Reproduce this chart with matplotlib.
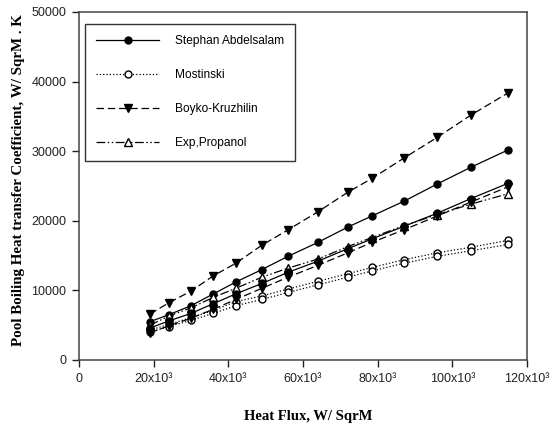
import matplotlib
matplotlib.use("Agg")
import matplotlib.pyplot as plt

# heat flux, W/m2
heat_flux = [19000, 24000, 30000, 36000, 42000, 49000, 56000, 64000,
             72000, 78500, 87000, 96000, 105000, 115000]

# correlations, two sets each (upper / lower)
stephan_a = [5500, 6500, 7800, 9500, 11200, 13000, 14900, 16900,
             19100, 20700, 22800, 25300, 27700, 30200]
stephan_b = [4600, 5600, 6700, 8100, 9500, 11000, 12600, 14200,
             16000, 17400, 19200, 21100, 23200, 25400]
mostinski_a = [4300, 5100, 6100, 7100, 8400, 9200, 10200, 11300,
               12400, 13300, 14400, 15400, 16200, 17200]
mostinski_b = [4000, 4800, 5700, 6700, 7800, 8700, 9700, 10800,
               11900, 12800, 13900, 14900, 15700, 16600]
boyko_a = [6600, 8200, 9900, 12100, 13900, 16500, 18700, 21300,
           24100, 26100, 29000, 32000, 35200, 38400]
boyko_b = [3900, 4900, 6000, 7300, 8700, 10300, 11900, 13600,
           15400, 16900, 18700, 20700, 22700, 24900]
exp_propanol = [5000, 6300, 7500, 9000, 10300, 11900, 13200, 14500,
                16300, 17600, 19300, 20900, 22400, 23900]

x_ticks = [0, 20000, 40000, 60000, 80000, 100000, 120000]
x_ticklabels = ["0", "20x10³", "40x10³", "60x10³", "80x10³", "100x10³", "120x10³"]
y_ticks = [0, 10000, 20000, 30000, 40000, 50000]

plt.rcParams['font.family'] = ['Liberation Sans', 'DejaVu Sans']

fig = plt.figure(figsize=(5.54, 4.25), dpi=100)
ax = fig.add_axes([79 / 554, 1 - 360 / 425, 448 / 554, 348 / 425])

lw = 0.9
dashdotdot = (0, (7, 2, 1.2, 2, 1.2, 2))

ax.plot(heat_flux, stephan_a, color='black', lw=lw, ls='-', marker='o',
        ms=5, mfc='black', label='Stephan Abdelsalam')
ax.plot(heat_flux, mostinski_a, color='black', lw=lw, ls=':', marker='o',
        ms=5, mfc='white', label='Mostinski')
ax.plot(heat_flux, boyko_a, color='black', lw=lw, ls=(0, (6, 3)), marker='v',
        ms=6, mfc='black', label='Boyko-Kruzhilin')
ax.plot(heat_flux, exp_propanol, color='black', lw=lw, ls=dashdotdot, marker='^',
        ms=6, mfc='white', label='Exp,Propanol')

ax.plot(heat_flux, stephan_b, color='black', lw=lw, ls='-', marker='o',
        ms=5, mfc='black')
ax.plot(heat_flux, mostinski_b, color='black', lw=lw, ls=':', marker='o',
        ms=5, mfc='white')
ax.plot(heat_flux, boyko_b, color='black', lw=lw, ls=(0, (6, 3)), marker='v',
        ms=6, mfc='black')

ax.set_xlim(0, 120000)
ax.set_ylim(0, 50000)
ax.set_xticks(x_ticks)
ax.set_xticklabels(x_ticklabels)
ax.set_yticks(y_ticks)
ax.set_yticklabels([str(v) for v in y_ticks])
ax.tick_params(axis='both', which='major', direction='out', length=5, width=1,
               labelsize=9, colors='#222222', pad=4)
ax.tick_params(top=False, right=False)
for sp in ax.spines.values():
    sp.set_color('#444444')
    sp.set_linewidth(1.1)

ax.set_xlabel("Heat Flux, W/ SqrM", family='Liberation Serif', fontweight='bold',
              fontsize=10.5)
ax.xaxis.set_label_coords(0.511, -0.145)
ax.set_ylabel("Pool Boiling Heat transfer Coefficient, W/ SqrM . K",
              family='Liberation Serif', fontweight='bold', fontsize=10.8)
ax.yaxis.set_label_coords(-0.12, 0.517)

leg = ax.legend(loc='upper left', bbox_to_anchor=(0.013, 0.966), borderaxespad=0,
                numpoints=1, fontsize=8.6, handlelength=5.3, handletextpad=1.3,
                labelspacing=1.85, borderpad=0.95, fancybox=False, framealpha=1)
leg.get_frame().set_edgecolor('#333333')
leg.get_frame().set_linewidth(1.0)

fig.savefig("out.png", dpi=100)
